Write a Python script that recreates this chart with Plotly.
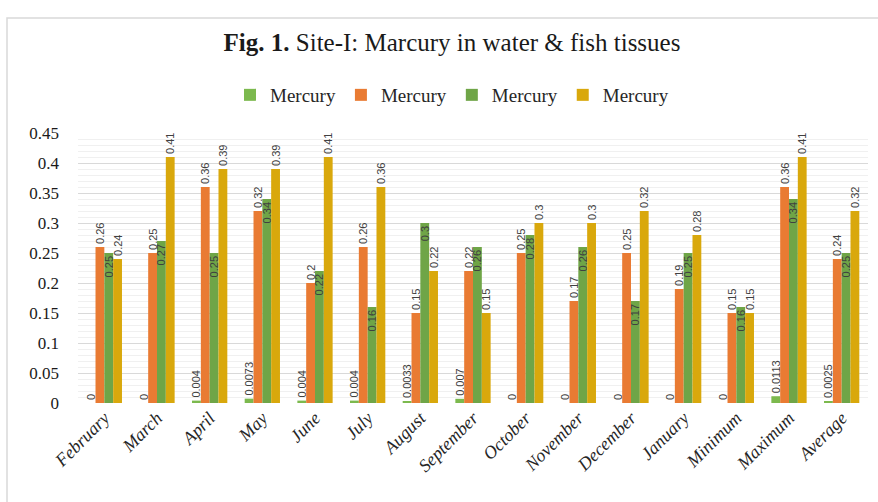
import plotly.graph_objects as go

categories = ["February", "March", "April", "May", "June", "July", "August", "September",
              "October", "November", "December", "January", "Minimum", "Maximum", "Average"]
series_names = ["Mercury", "Mercury", "Mercury", "Mercury"]
s1 = [0, 0, 0.004, 0.0073, 0.004, 0.004, 0.0033, 0.007, 0, 0, 0, 0, 0, 0.0113, 0.0025]
s2 = [0.26, 0.25, 0.36, 0.32, 0.2, 0.26, 0.15, 0.22, 0.25, 0.17, 0.25, 0.19, 0.15, 0.36, 0.24]
s3 = [0.25, 0.27, 0.25, 0.34, 0.22, 0.16, 0.3, 0.26, 0.28, 0.26, 0.17, 0.25, 0.16, 0.34, 0.25]
s4 = [0.24, 0.41, 0.39, 0.39, 0.41, 0.36, 0.22, 0.15, 0.3, 0.3, 0.32, 0.28, 0.15, 0.41, 0.32]
y_ticks = [0, 0.05, 0.1, 0.15, 0.2, 0.25, 0.3, 0.35, 0.4, 0.45]
y_tick_labels = ["0", "0.05", "0.1", "0.15", "0.2", "0.25", "0.3", "0.35", "0.4", "0.45"]

colors = ["#7CB94E", "#E97B33", "#6FA547", "#D9A80C"]
positions = ["outside", "outside", "inside", "outside"]
label_font = dict(family="Liberation Sans Narrow, Liberation Sans, Arial", size=11, color="#404040")

fig = go.Figure()
for name, vals, col, pos in zip(series_names, [s1, s2, s3, s4], colors, positions):
    fig.add_trace(go.Bar(
        x=categories, y=vals, name=name,
        marker=dict(color=col, line=dict(width=0)),
        text=[str(v) for v in vals],
        textposition=pos, textangle=-90,
        insidetextanchor="end",
        textfont=label_font,
        constraintext="none",
        cliponaxis=False,
    ))

W, H = 878, 502
L, R, T, B = 78, 10, 133, 99
pw, ph = W - L - R, H - T - B

fig.update_layout(
    width=W, height=H,
    margin=dict(l=L, r=R, t=T, b=B),
    paper_bgcolor="white", plot_bgcolor="white",
    barmode="group", bargap=0.33, bargroupgap=0,
    title=dict(text="<b>Fig. 1.</b> Site-I: Marcury in water &amp; fish tissues",
               x=452 / W, xanchor="center", y=1 - 42 / H, yanchor="middle",
               font=dict(family="Liberation Serif, Times New Roman, serif", size=25, color="#1a1a1a")),
    legend=dict(orientation="h", x=(452 - L) / pw, xanchor="center", y=(403 - 95) / ph, yanchor="middle",
                font=dict(family="Liberation Serif, Times New Roman, serif", size=19, color="#262626"),
                itemwidth=30, tracegroupgap=0),
    showlegend=True,
    shapes=[dict(type="rect", xref="paper", yref="paper",
                 x0=(7 - L) / pw, x1=(W + 20 - L) / pw,
                 y0=(H - T - B - (H + 20 - T)) / ph, y1=(403 - 18) / ph,
                 line=dict(color="#D9D9D9", width=1.5), fillcolor="rgba(0,0,0,0)", layer="below")],
)
fig.update_xaxes(
    tickangle=-45, showgrid=False, showline=False, ticks="",
    tickfont=dict(family="Liberation Serif, Times New Roman, serif", size=18, color="#262626", style="italic"),
)
fig.update_yaxes(
    range=[0, 0.45], tickvals=y_ticks, ticktext=y_tick_labels,
    showgrid=True, gridcolor="#D9D9D9", gridwidth=1,
    minor=dict(dtick=0.01, showgrid=True, gridcolor="#F0F0F0", gridwidth=1),
    zeroline=False, showline=False, ticks="",
    tickfont=dict(family="Liberation Serif, Times New Roman, serif", size=17, color="#1a1a1a"),
    ticklabelstandoff=18,
)
fig.write_html("out.html", config={"displayModeBar": False},
               post_script="document.body.style.margin='0';document.body.style.overflow='hidden';")
